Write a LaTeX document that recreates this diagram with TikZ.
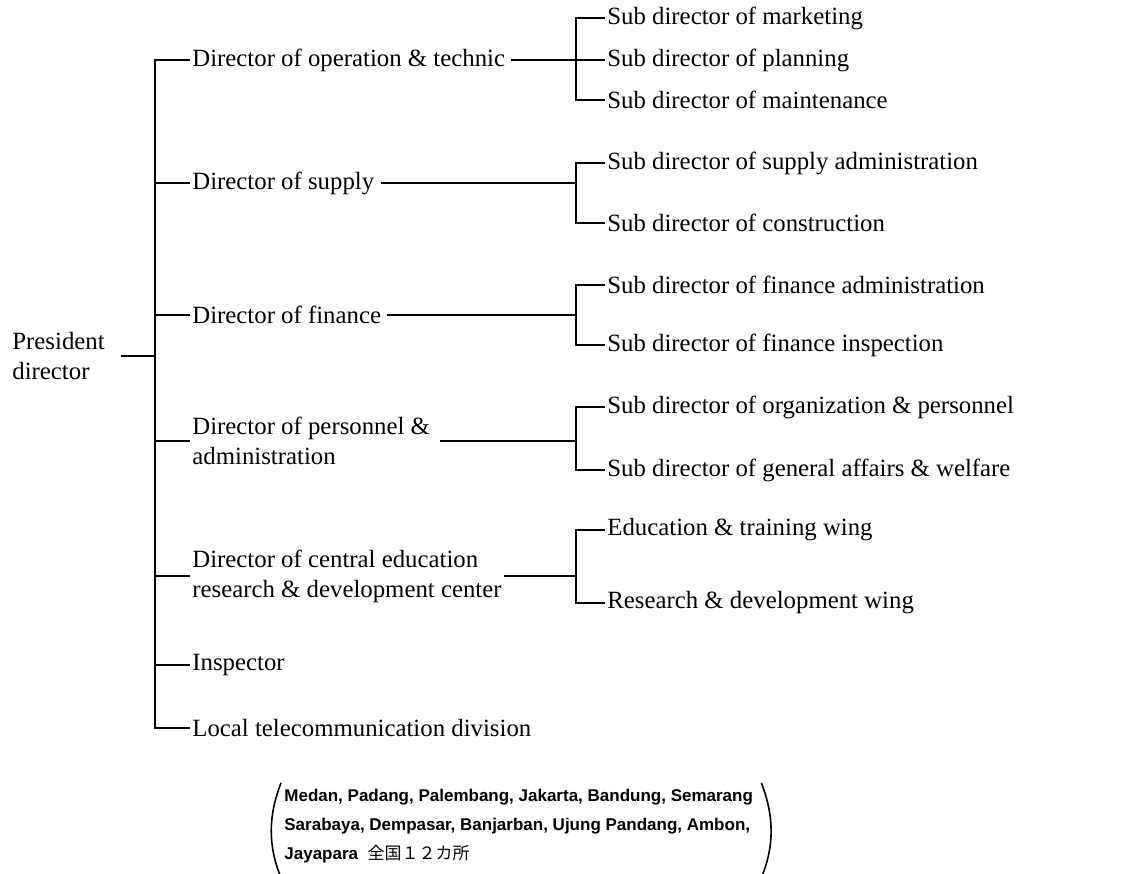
\documentclass[tikz,border=0pt]{standalone}
\usepackage{fontspec}
\setmainfont{Liberation Serif}
\newfontfamily\cityfont{Liberation Sans}
\newfontfamily\cjk{Noto Sans CJK JP}
\usetikzlibrary{calc}

\tikzstyle{head} = [anchor=west, align=left, inner xsep=1pt, inner ysep=0pt, font=\fontsize{12.4}{15}\selectfont]
\tikzstyle{link} = [line width=1pt]

\begin{document}
\begin{tikzpicture}[x=0.5pt, y=-0.5pt]
    \useasboundingbox (0,0) rectangle (1135,873);

    % President
    \node (pres) [head, inner xsep=0pt] at (12,356) {President\\director};

    % Directors
    \node (op)   [head] at (190,60)  {Director of operation \& technic};
    \node (sup)  [head] at (190,183) {Director of supply};
    \node (fin)  [head] at (190,315) {Director of finance};
    \node (pers) [head] at (190,441) {Director of personnel \&\\administration};
    \node (cedu) [head] at (190,576) {Director of central education\\research \& development center};
    \node (insp) [head] at (190,665) {Inspector};
    \node (loc)  [head] at (190,728) {Local telecommunication division};

    % Sub directors
    \node (mkt)   [head] at (605,18)  {Sub director of marketing};
    \node (pln)   [head] at (605,60)  {Sub director of planning};
    \node (mnt)   [head] at (605,100) {Sub director of maintenance};
    \node (sadm)  [head] at (605,163) {Sub director of supply administration};
    \node (cons)  [head] at (605,223) {Sub director of construction};
    \node (fadm)  [head] at (605,285) {Sub director of finance administration};
    \node (finsp) [head] at (605,345) {Sub director of finance inspection};
    \node (org)   [head] at (605,407) {Sub director of organization \& personnel};
    \node (gen)   [head] at (605,470) {Sub director of general affairs \& welfare};
    \node (edu)   [head] at (605,530) {Education \& training wing};
    \node (res)   [head] at (605,603) {Research \& development wing};

    % Branch points
    \coordinate (jmain) at (155,356);
    \coordinate (jop)   at (576,60);
    \coordinate (jsup)  at (576,183);
    \coordinate (jfin)  at (576,315);
    \coordinate (jpers) at (576,441);
    \coordinate (jcedu) at (576,576);

    % Main bracket
    \draw [link] ([xshift=8pt]pres.east) -- (jmain);
    \draw [link] (op.west) -| (jmain) |- (loc.west);
    \draw [link] (sup.west) -- (sup.west -| jmain);
    \draw [link] (fin.west) -- (fin.west -| jmain);
    \draw [link] (pers.west) -- (pers.west -| jmain);
    \draw [link] (cedu.west) -- (cedu.west -| jmain);
    \draw [link] (insp.west) -- (insp.west -| jmain);

    % Director to sub directors
    \draw [link, shorten <=2pt] (op.east) -- (jop);
    \draw [link] (mkt.west) -| (jop) |- (mnt.west);
    \draw [link] (jop) -- (pln.west);

    \draw [link, shorten <=2pt] (sup.east) -- (jsup);
    \draw [link] (sadm.west) -| (jsup) |- (cons.west);

    \draw [link, shorten <=2pt] (fin.east) -- (jfin);
    \draw [link] (fadm.west) -| (jfin) |- (finsp.west);

    \draw [link, shorten <=4pt] (pers.east) -- (jpers);
    \draw [link] (org.west) -| (jpers) |- (gen.west);

    \draw [link] (cedu.east) -- (jcedu);
    \draw [link] (edu.west) -| (jcedu) |- (res.west);

    % Local offices
    \node (cities) [anchor=north west, align=left, inner sep=0pt, font=\cityfont\bfseries\fontsize{8.5}{14.5}\selectfont] at (284,789)
        {Medan, Padang, Palembang, Jakarta, Bandung, Semarang\\
         Sarabaya, Dempasar, Banjarban, Ujung Pandang, Ambon,\\
         Jayapara\ \ {\cjk\mdseries 全国１２カ所}};
    \draw [line width=0.8pt] ($(cities.north west)+(-3,-6)$) .. controls ($(cities.west)+(-16,-10)$) and ($(cities.west)+(-16,20)$) .. ($(cities.south west)+(-3,14)$);
    \draw [line width=0.8pt] ($(cities.north east)+(8,-6)$) .. controls ($(cities.east)+(21,-10)$) and ($(cities.east)+(21,20)$) .. ($(cities.south east)+(8,14)$);
\end{tikzpicture}
\end{document}
